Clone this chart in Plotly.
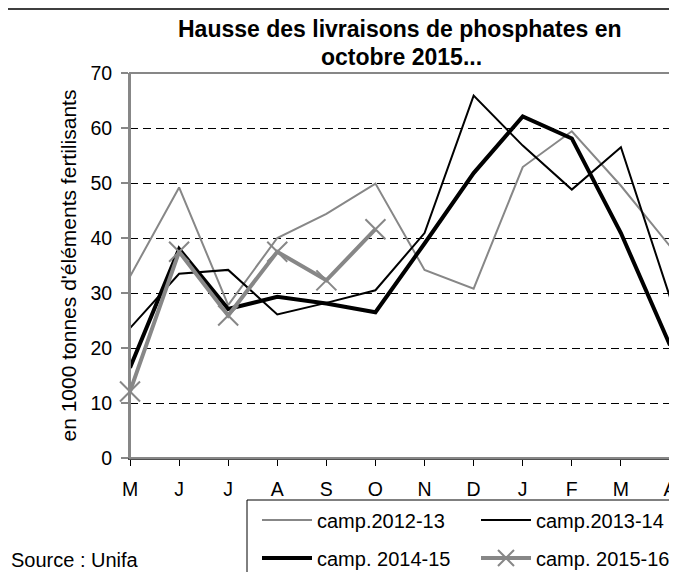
import plotly.graph_objects as go

months = ["M", "J", "J", "A", "S", "O", "N", "D", "J", "F", "M", "A"]
c1213 = [33.0, 49.2, 27.8, 40.0, 44.4, 49.9, 34.2, 30.8, 52.9, 59.4, 49.5, 38.5]
c1314 = [23.6, 33.5, 34.2, 26.1, 28.2, 30.5, 40.9, 65.9, 56.8, 48.8, 56.5, 29.2]
c1415 = [16.4, 38.0, 27.1, 29.3, 28.1, 26.5, 39.0, 51.8, 62.1, 58.1, 40.9, 20.5]
c1516 = [12.1, 37.5, 25.9, 37.5, 32.3, 41.6]
y_ticks = [0, 10, 20, 30, 40, 50, 60, 70]

OFF = 8  # page body margin
W, H = 677 - OFF, 572 - OFF
# plot area in page pixels
L, R, T, B = 130, 670, 73, 458
GRAY = "#878787"
FONT = "Liberation Sans, Arial, sans-serif"
FS = 19.5

xs = list(range(len(months)))

fig = go.Figure()
fig.add_trace(go.Scatter(x=xs, y=c1213, mode="lines", name="camp.2012-13",
                         line=dict(color=GRAY, width=2), legend="legend"))
fig.add_trace(go.Scatter(x=xs, y=c1314, mode="lines", name="camp.2013-14",
                         line=dict(color="black", width=2), legend="legend"))
fig.add_trace(go.Scatter(x=xs, y=c1415, mode="lines", name="camp. 2014-15",
                         line=dict(color="black", width=4), legend="legend2"))
fig.add_trace(go.Scatter(x=xs[:len(c1516)], y=c1516, mode="lines+markers", name="camp. 2015-16",
                         line=dict(color=GRAY, width=4),
                         marker=dict(symbol="x-thin", size=20, color=GRAY,
                                     line=dict(width=2, color=GRAY)),
                         legend="legend2", cliponaxis=False))

def px_x(p):
    return (p - L) / (R - L)

def px_y(p):
    return (B - p) / (B - T)

def cx(p):
    return (p - OFF) / W

def cy(p):
    return 1 - (p - OFF) / H

shapes = [
    dict(type="rect", xref="paper", yref="paper", x0=px_x(7), x1=px_x(700),
         y0=px_y(600), y1=px_y(9), line=dict(color="black", width=1.3)),
    dict(type="rect", xref="paper", yref="paper", x0=0, x1=1, y0=0, y1=1,
         line=dict(color=GRAY, width=2), layer="above"),
    dict(type="rect", xref="paper", yref="paper", x0=px_x(247), x1=px_x(700),
         y0=px_y(600), y1=px_y(500), line=dict(color="black", width=1)),
]

leg_common = dict(orientation="h", xref="container", yref="container",
                  xanchor="left", yanchor="middle", itemwidth=50,
                  entrywidth=154, font=dict(size=20), bgcolor="rgba(0,0,0,0)")

fig.update_layout(
    width=W, height=H,
    margin=dict(l=L - OFF, r=W - (R - OFF), t=T - OFF, b=H - (B - OFF), pad=0,
                autoexpand=False),
    paper_bgcolor="white", plot_bgcolor="white",
    font=dict(family=FONT, size=FS, color="black"),
    showlegend=True,
    legend=dict(x=cx(257), y=cy(520), **leg_common),
    legend2=dict(x=cx(257), y=cy(558), **leg_common),
    xaxis=dict(range=[0, len(months) - 1], tickvals=xs, ticktext=months,
               showgrid=False, zeroline=False, showline=True, linecolor="#505050",
               linewidth=2, ticks="outside", ticklen=6, tickcolor="black",
               tickwidth=1, tickfont=dict(size=FS), ticklabelstandoff=7,
               automargin=False),
    yaxis=dict(range=[0, 70], tickvals=y_ticks, showgrid=True, gridcolor="black",
               gridwidth=1, griddash="8px,5px", zeroline=False, showline=True,
               linecolor=GRAY, linewidth=2, ticks="outside", ticklen=7,
               tickcolor=GRAY, tickwidth=2, tickfont=dict(size=FS),
               ticklabelstandoff=5, automargin=False),
    shapes=shapes,
    annotations=[
        dict(text="<b>Hausse des livraisons de phosphates en</b>", xref="paper", yref="paper",
             x=px_x(400), y=px_y(29), showarrow=False, xanchor="center",
             yanchor="middle", font=dict(size=23)),
        dict(text="<b>octobre 2015...</b>", xref="paper", yref="paper",
             x=px_x(401), y=px_y(57), showarrow=False, xanchor="center",
             yanchor="middle", font=dict(size=23)),
        dict(text="en 1000 tonnes d'éléments fertilisants", textangle=-90,
             xref="paper", yref="paper", x=px_x(68), y=0.5, showarrow=False,
             xanchor="center", yanchor="middle", font=dict(size=21)),
        dict(text="Source : Unifa", xref="paper", yref="paper", x=px_x(9),
             y=px_y(560), showarrow=False, xanchor="left", yanchor="middle",
             font=dict(size=20)),
    ],
)

fig.write_html("out.html")
